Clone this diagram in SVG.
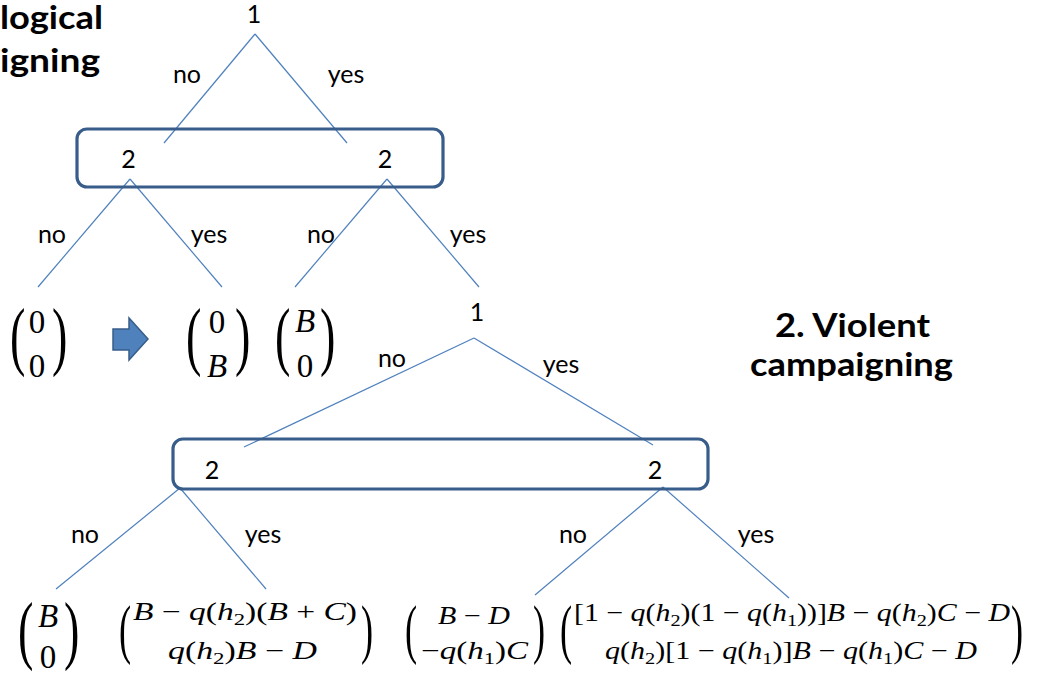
<svg xmlns="http://www.w3.org/2000/svg" width="1039" height="677" viewBox="0 0 1039 677">
<style>
.bg{fill:#fff}
.ln{stroke:#4f81bd;stroke-width:1.2;fill:none}
.box{fill:none;stroke:#385d8a;stroke-width:3.2}
.lb{font-family:Lato,"Liberation Sans",sans-serif;font-size:25px;fill:#000;text-anchor:middle}
.tt{font-family:Lato,"Liberation Sans",sans-serif;font-size:32px;font-weight:bold;fill:#000}
.mv{font-family:"Liberation Serif",serif;font-size:33px;fill:#000;text-anchor:middle}
.m{font-family:"Liberation Serif",serif;font-size:25px;fill:#000}
.i{font-style:italic}
.s{font-size:17px}
.pb{font-family:"Liberation Serif",serif;font-size:77px;fill:#000}
.ps{font-family:"Liberation Serif",serif;font-size:66px;fill:#000}
.arr{fill:#4f81bd;stroke:#385d8a;stroke-width:1.5}
</style>
<rect class="bg" x="0" y="0" width="1039" height="677"/>

<g id="titles">
<text class="tt" x="0" y="29" textLength="103" lengthAdjust="spacingAndGlyphs">logical</text>
<text class="tt" x="0" y="72" textLength="100" lengthAdjust="spacingAndGlyphs">igning</text>
<text class="tt" x="775" y="337" textLength="155" lengthAdjust="spacingAndGlyphs">2. Violent</text>
<text class="tt" x="750" y="376" textLength="203" lengthAdjust="spacingAndGlyphs">campaigning</text>
</g>

<g id="connectors">
<line class="ln" x1="255" y1="34" x2="164" y2="143"/>
<line class="ln" x1="255" y1="34" x2="347" y2="143"/>
<line class="ln" x1="130" y1="179" x2="38" y2="287"/>
<line class="ln" x1="130" y1="179" x2="222" y2="287"/>
<line class="ln" x1="387" y1="179" x2="295" y2="287"/>
<line class="ln" x1="387" y1="179" x2="479" y2="287"/>
<line class="ln" x1="474" y1="338" x2="244" y2="447"/>
<line class="ln" x1="474" y1="338" x2="653" y2="445"/>
<line class="ln" x1="180" y1="488" x2="56" y2="589"/>
<line class="ln" x1="180" y1="488" x2="266" y2="589"/>
<line class="ln" x1="663" y1="487" x2="535" y2="595"/>
<line class="ln" x1="663" y1="487" x2="789" y2="598"/>
</g>

<g id="edge-labels">
<text class="lb" x="187" y="83">no</text>
<text class="lb" x="346" y="83">yes</text>
<text class="lb" x="52" y="243">no</text>
<text class="lb" x="209" y="243">yes</text>
<text class="lb" x="321" y="243">no</text>
<text class="lb" x="468" y="243">yes</text>
<text class="lb" x="392" y="367">no</text>
<text class="lb" x="561" y="373">yes</text>
<text class="lb" x="85" y="543">no</text>
<text class="lb" x="263" y="543">yes</text>
<text class="lb" x="573" y="543">no</text>
<text class="lb" x="756" y="543">yes</text>
</g>

<g id="node-1a"><text class="lb" x="254" y="23">1</text></g>
<g id="info-set-2a">
<rect class="box" x="77" y="129" width="366" height="58" rx="10"/>
<text class="lb" x="128.5" y="168">2</text>
<text class="lb" x="385" y="168">2</text>
</g>
<g id="node-1b"><text class="lb" x="477" y="321">1</text></g>
<g id="info-set-2b">
<rect class="box" x="173" y="439" width="535" height="50" rx="10"/>
<text class="lb" x="212" y="479">2</text>
<text class="lb" x="655" y="479">2</text>
</g>

<g id="payoff-00">
<text class="pb" transform="translate(10,361) scale(0.6,1)">(</text>
<text class="mv" x="37" y="333">0</text>
<text class="mv" x="37" y="377">0</text>
<text class="pb" transform="translate(52,361) scale(0.6,1)">)</text>
</g>
<g id="arrow">
<polygon class="arr" points="113,329 129,329 129,318 148,339 129,360 129,350 113,350"/>
</g>
<g id="payoff-0B">
<text class="pb" transform="translate(186,361) scale(0.6,1)">(</text>
<text class="mv" x="217" y="333">0</text>
<text class="mv i" x="217" y="377">B</text>
<text class="pb" transform="translate(235,361) scale(0.6,1)">)</text>
</g>
<g id="payoff-B0">
<text class="pb" transform="translate(275,361) scale(0.6,1)">(</text>
<text class="mv i" x="305" y="332">B</text>
<text class="mv" x="305" y="377">0</text>
<text class="pb" transform="translate(320,361) scale(0.6,1)">)</text>
</g>

<g id="payoff-B0-bottom">
<text class="pb" transform="translate(18,655) scale(0.6,1)">(</text>
<text class="mv i" x="48" y="627">B</text>
<text class="mv" x="48" y="668">0</text>
<text class="pb" transform="translate(64,655) scale(0.6,1)">)</text>
</g>

<g id="payoff-no-yes">
<text class="ps" transform="translate(119,651) scale(0.55,1)">(</text>
<text class="m" x="133" y="620" textLength="224" lengthAdjust="spacingAndGlyphs"><tspan class="i">B</tspan> − <tspan class="i">q</tspan>(<tspan class="i">h</tspan><tspan class="s" dy="5">2</tspan><tspan dy="-5">)(</tspan><tspan class="i">B</tspan> + <tspan class="i">C</tspan>)</text>
<text class="m" x="168" y="659" textLength="149" lengthAdjust="spacingAndGlyphs"><tspan class="i">q</tspan>(<tspan class="i">h</tspan><tspan class="s" dy="5">2</tspan><tspan dy="-5">)</tspan><tspan class="i">B</tspan> − <tspan class="i">D</tspan></text>
<text class="ps" transform="translate(361,651) scale(0.55,1)">)</text>
</g>

<g id="payoff-yes-no">
<text class="ps" transform="translate(405,651) scale(0.55,1)">(</text>
<text class="m" x="438" y="624" textLength="72" lengthAdjust="spacingAndGlyphs"><tspan class="i">B</tspan> − <tspan class="i">D</tspan></text>
<text class="m" x="421" y="659" textLength="107" lengthAdjust="spacingAndGlyphs">−<tspan class="i">q</tspan>(<tspan class="i">h</tspan><tspan class="s" dy="5">1</tspan><tspan dy="-5">)</tspan><tspan class="i">C</tspan></text>
<text class="ps" transform="translate(533,651) scale(0.55,1)">)</text>
</g>

<g id="payoff-yes-yes">
<text class="ps" transform="translate(560,651) scale(0.55,1)">(</text>
<text class="m" x="574" y="621" textLength="436" lengthAdjust="spacingAndGlyphs">[1 − <tspan class="i">q</tspan>(<tspan class="i">h</tspan><tspan class="s" dy="5">2</tspan><tspan dy="-5">)(1 − </tspan><tspan class="i">q</tspan>(<tspan class="i">h</tspan><tspan class="s" dy="5">1</tspan><tspan dy="-5">))]</tspan><tspan class="i">B</tspan> − <tspan class="i">q</tspan>(<tspan class="i">h</tspan><tspan class="s" dy="5">2</tspan><tspan dy="-5">)</tspan><tspan class="i">C</tspan> − <tspan class="i">D</tspan></text>
<text class="m" x="605" y="659" textLength="372" lengthAdjust="spacingAndGlyphs"><tspan class="i">q</tspan>(<tspan class="i">h</tspan><tspan class="s" dy="5">2</tspan><tspan dy="-5">)[1 − </tspan><tspan class="i">q</tspan>(<tspan class="i">h</tspan><tspan class="s" dy="5">1</tspan><tspan dy="-5">)]</tspan><tspan class="i">B</tspan> − <tspan class="i">q</tspan>(<tspan class="i">h</tspan><tspan class="s" dy="5">1</tspan><tspan dy="-5">)</tspan><tspan class="i">C</tspan> − <tspan class="i">D</tspan></text>
<text class="ps" transform="translate(1011,651) scale(0.55,1)">)</text>
</g>
</svg>
